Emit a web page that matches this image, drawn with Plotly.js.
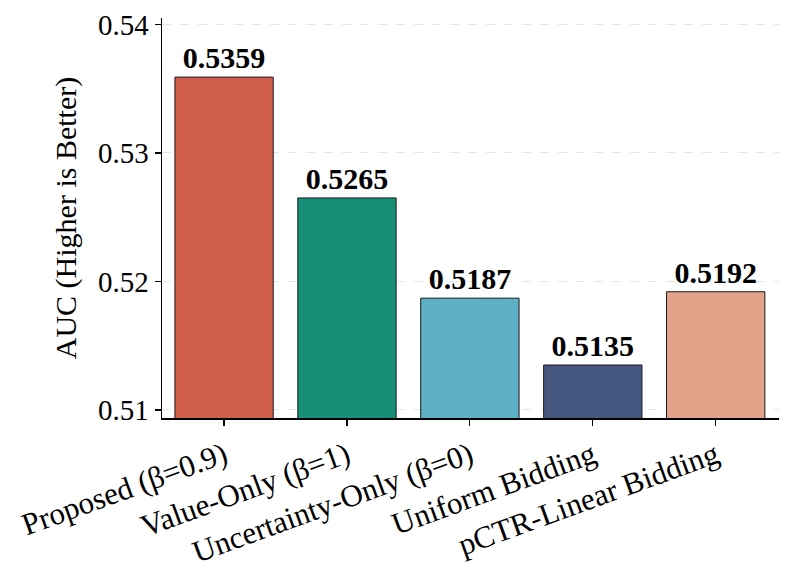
<!DOCTYPE html>
<html>
<head>
<meta charset="utf-8">
<script src="https://cdn.plot.ly/plotly-3.0.1.min.js"></script>
<style>html,body{margin:0;padding:0;background:#fff;}#chart{width:793px;height:573px;}</style>
</head>
<body>
<div id="chart"></div>
<script>
const categories = ["Proposed (β=0.9)", "Value-Only (β=1)", "Uncertainty-Only (β=0)", "Uniform Bidding", "pCTR-Linear Bidding"];
const aucValues = [0.5359, 0.5265, 0.5187, 0.5135, 0.5192];
const barColors = ["#D15E4B", "#178E77", "#5EB0C5", "#45577F", "#E4A28B"];
const yTickVals = [0.51, 0.52, 0.53, 0.54];
const yTickText = ["0.51", "0.52", "0.53", "0.54"];

const font = "Liberation Serif, Times New Roman, serif";

const trace = {
  type: "bar",
  x: categories.map((c, i) => i),
  y: aucValues,
  width: 0.8,
  marker: { color: barColors, line: { color: "#1a1a1a", width: 1 } },
  text: aucValues.map(v => "<b>" + v.toFixed(4) + "</b>"),
  textposition: "outside",
  textfont: { family: font, size: 30, color: "#000" },
  cliponaxis: false,
  hoverinfo: "skip"
};

const layout = {
  width: 793, height: 573,
  margin: { l: 162, r: 14, t: 18, b: 155 },
  paper_bgcolor: "#fff", plot_bgcolor: "#fff",
  showlegend: false,
  font: { family: font, size: 29, color: "#000" },
  xaxis: {
    range: [-0.505, 4.515],
    tickvals: categories.map((c, i) => i),
    ticktext: categories,
    tickangle: -20,
    ticks: "outside", ticklen: 6, tickwidth: 1.2, tickcolor: "#000",
    showline: true, linecolor: "#000", linewidth: 1.5,
    showgrid: false, zeroline: false,
    tickfont: { family: font, size: 31, color: "#000" }
  },
  yaxis: {
    range: [0.509377, 0.5405],
    tickvals: yTickVals,
    ticktext: yTickText,
    ticks: "outside", ticklen: 6, tickwidth: 1.2, tickcolor: "#000",
    showline: true, linecolor: "#000", linewidth: 1.5,
    showgrid: true, gridcolor: "rgba(170,170,170,0.3)", griddash: "dash", gridwidth: 1,
    zeroline: false,
    layer: "above traces",
    tickfont: { family: font, size: 29, color: "#000" },
    title: { text: "AUC (Higher is Better)", font: { family: font, size: 30, color: "#000" }, standoff: 12 }
  },
  bargap: 0.2
};

Plotly.newPlot("chart", [trace], layout, { displayModeBar: false, staticPlot: true });
</script>
</body>
</html>
